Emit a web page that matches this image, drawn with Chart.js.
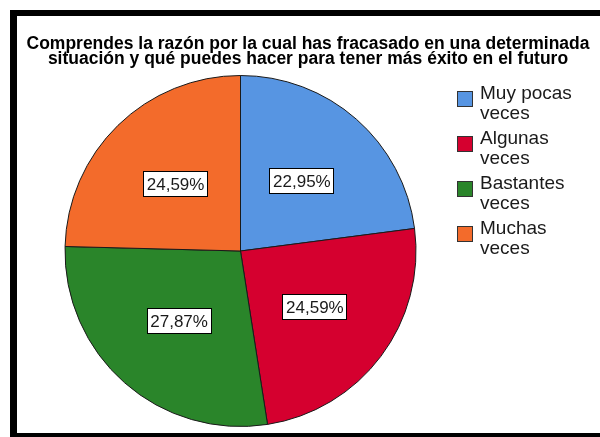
<!DOCTYPE html>
<html>
<head>
<meta charset="utf-8">
<script src="https://cdn.jsdelivr.net/npm/chart.js@4/dist/chart.umd.min.js"></script>
<style>
  html, body { margin: 0; padding: 0; background: #ffffff; }
  #wrap { width: 600px; height: 437px; position: relative; }
</style>
</head>
<body>
<div id="wrap"><canvas id="chart" width="600" height="437"></canvas></div>
<script>
// Survey answers and their share of responses (%)
const categories = ["Muy pocas veces", "Algunas veces", "Bastantes veces", "Muchas veces"];
const percentages = [22.95, 24.59, 27.87, 24.59];
const sliceColors = ["#5795e2", "#d5002f", "#2a852a", "#f36b2b"];
const titleLines = [
  "Comprendes la razón por la cual has fracasado en una determinada",
  "situación y qué puedes hacer para tener más éxito en el futuro"
];

const FONT = "'Liberation Sans', Arial, sans-serif";

function fmtPct(v) {
  return v.toFixed(2).replace(".", ",") + "%";
}

// Black frame around the figure
const framePlugin = {
  id: "frame",
  beforeDraw(chart) {
    const ctx = chart.ctx;
    ctx.save();
    ctx.fillStyle = "#ffffff";
    ctx.fillRect(0, 0, chart.width, chart.height);
    ctx.fillStyle = "#000000";
    ctx.fillRect(10, 10, chart.width - 10, 6);
    ctx.fillRect(10, 10, 7, chart.height - 10);
    ctx.fillRect(10, chart.height - 4, chart.width - 10, 4);
    ctx.restore();
  }
};

// Two-line bold heading, condensed
const headingPlugin = {
  id: "heading",
  afterDraw(chart) {
    const ctx = chart.ctx;
    ctx.save();
    ctx.font = "bold 18px " + FONT;
    ctx.fillStyle = "#000000";
    ctx.textAlign = "center";
    ctx.textBaseline = "alphabetic";
    const sx = 563 / ctx.measureText(titleLines[0]).width;
    ctx.translate(308, 0);
    ctx.scale(sx, 1);
    titleLines.forEach((line, i) => ctx.fillText(line, 0, 49 + i * 15));
    ctx.restore();
  }
};

// Percentage boxes inside each slice
const valueBoxPlugin = {
  id: "valueBoxes",
  afterDatasetsDraw(chart) {
    const ctx = chart.ctx;
    const meta = chart.getDatasetMeta(0);
    ctx.save();
    ctx.font = "17px " + FONT;
    ctx.textAlign = "center";
    ctx.textBaseline = "middle";
    meta.data.forEach((arc, i) => {
      const mid = (arc.startAngle + arc.endAngle) / 2;
      const r = arc.outerRadius * 0.53;
      const x = arc.x + Math.cos(mid) * r;
      const y = arc.y + Math.sin(mid) * r;
      const text = fmtPct(percentages[i]);
      const w = Math.round(ctx.measureText(text).width + 7);
      const h = 26;
      const bx = Math.round(x - w / 2), by = Math.round(y - h / 2);
      ctx.fillStyle = "#ffffff";
      ctx.fillRect(bx, by, w, h);
      ctx.strokeStyle = "#000000";
      ctx.lineWidth = 1;
      ctx.strokeRect(bx + 0.5, by + 0.5, w - 1, h - 1);
      ctx.fillStyle = "#1a1a1a";
      ctx.fillText(text, x, y + 1);
    });
    ctx.restore();
  }
};

// Legend with wrapped category names
const sideLegendPlugin = {
  id: "sideLegend",
  afterDraw(chart) {
    const ctx = chart.ctx;
    const labels = chart.data.labels;
    const colors = chart.data.datasets[0].backgroundColor;
    ctx.save();
    ctx.font = "19px " + FONT;
    ctx.textAlign = "left";
    ctx.textBaseline = "alphabetic";
    labels.forEach((label, i) => {
      const top = 91 + i * 45;
      ctx.fillStyle = colors[i];
      ctx.fillRect(457, top, 16, 16);
      ctx.strokeStyle = "#333333";
      ctx.lineWidth = 1;
      ctx.strokeRect(457.5, top + 0.5, 15, 15);
      // wrap words within the legend column
      const words = label.split(" ");
      const lines = [];
      let cur = "";
      words.forEach(wd => {
        const test = cur ? cur + " " + wd : wd;
        if (ctx.measureText(test).width > 110 && cur) {
          lines.push(cur);
          cur = wd;
        } else {
          cur = test;
        }
      });
      if (cur) lines.push(cur);
      ctx.fillStyle = "#1a1a1a";
      lines.forEach((ln, j) => ctx.fillText(ln, 480, top + 8 + j * 20));
    });
    ctx.restore();
  }
};

new Chart(document.getElementById("chart"), {
  type: "pie",
  data: {
    labels: categories,
    datasets: [{
      data: percentages,
      backgroundColor: sliceColors,
      borderColor: "#1a1a1a",
      borderWidth: 1
    }]
  },
  options: {
    responsive: false,
    animation: false,
    events: [],
    layout: {
      padding: { left: 64.5, right: 183.5, top: 75, bottom: 10 }
    },
    plugins: {
      legend: { display: false },
      title: { display: false },
      tooltip: { enabled: false }
    }
  },
  plugins: [framePlugin, valueBoxPlugin, headingPlugin, sideLegendPlugin]
});
</script>
</body>
</html>
